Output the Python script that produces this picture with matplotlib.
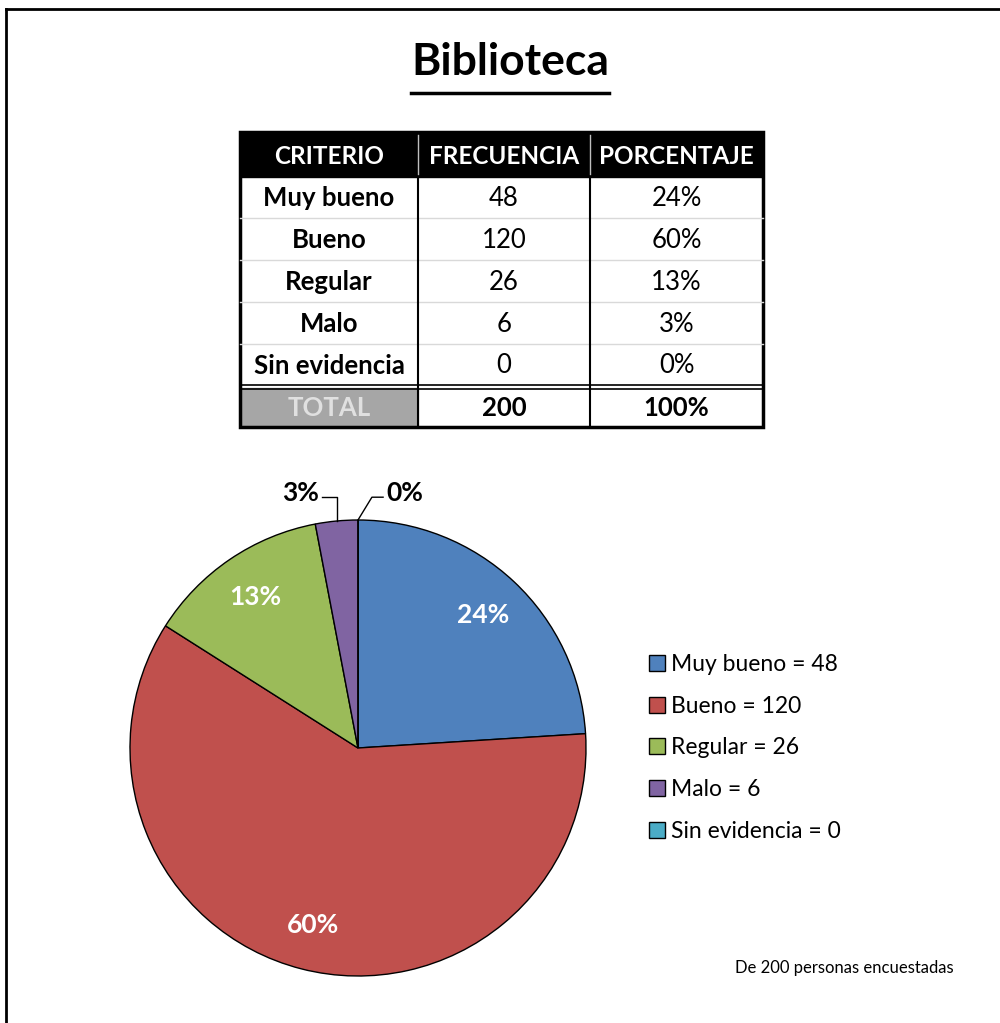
import matplotlib
matplotlib.use("Agg")
import matplotlib.pyplot as plt
from matplotlib.patches import Rectangle
import numpy as np

plt.rcParams['font.family'] = ['Lato', 'DejaVu Sans']

# data
titulo = "Biblioteca"
encabezados = ["CRITERIO", "FRECUENCIA", "PORCENTAJE"]
criterios = ["Muy bueno", "Bueno", "Regular", "Malo", "Sin evidencia"]
frecuencia = [48, 120, 26, 6, 0]
porcentaje = [24, 60, 13, 3, 0]
colores = ["#4F81BD", "#C0504D", "#9BBB59", "#8064A2", "#4BACC6"]
nota = "De 200 personas encuestadas"

W, H = 1000, 1023
fig = plt.figure(figsize=(W / 100, H / 100), dpi=100)

# background axes in pixel coordinates
ax0 = fig.add_axes([0, 0, 1, 1])
ax0.set_xlim(0, W)
ax0.set_ylim(H, 0)
ax0.axis("off")

# frame (top and left only visible)
ax0.plot([6, 1000], [9, 9], color="black", lw=2)
ax0.plot([6, 6], [9, 1023], color="black", lw=2)

# title with underline
ax0.text(510, 62, titulo, ha="center", va="center", fontsize=32, fontweight="bold")
ax0.plot([411, 609], [93, 93], color="black", lw=2.5)

# table
x0, x1, x2, x3 = 240, 418, 590, 763
y_head = (132, 177)
filas_y = [177, 218, 260, 302, 344, 385]
y_tot = (388, 427)
ax0.add_patch(Rectangle((x0, y_head[0]), x3 - x0, y_head[1] - y_head[0], color="black"))
ax0.add_patch(Rectangle((x0, y_tot[0]), x1 - x0, y_tot[1] - y_tot[0], color="#A6A6A6"))
for y in filas_y[1:-1]:
    ax0.plot([x0, x3], [y, y], color="#D9D9D9", lw=1)
for x in (x1, x2):
    ax0.plot([x, x], [y_head[0] + 3, y_head[1] - 3], color="#BFBFBF", lw=1)
    ax0.plot([x, x], [y_head[1], y_tot[1]], color="black", lw=1.5)
ax0.plot([x0, x3], [385, 385], color="black", lw=1.2)
ax0.plot([x0, x3], [388.5, 388.5], color="black", lw=1.2)
ax0.add_patch(Rectangle((x0, y_head[0]), x3 - x0, y_tot[1] - y_head[0],
                        fill=False, edgecolor="black", lw=2.5))

fs = 18.5
cx = [(x0 + x1) / 2, (x1 + x2) / 2, (x2 + x3) / 2]
for c, t in zip(cx, encabezados):
    ax0.text(c, 157, t, ha="center", va="center", color="white",
             fontsize=17.5, fontweight="bold")
for i in range(len(criterios)):
    yc = (filas_y[i] + filas_y[i + 1]) / 2 + 1
    ax0.text(cx[0], yc, criterios[i], ha="center", va="center", fontsize=fs, fontweight="bold")
    ax0.text(cx[1], yc, str(frecuencia[i]), ha="center", va="center", fontsize=fs)
    ax0.text(cx[2], yc, f"{porcentaje[i]}%", ha="center", va="center", fontsize=fs)
yc = sum(y_tot) / 2 + 1
ax0.text(cx[0], yc, "TOTAL", ha="center", va="center", fontsize=fs,
         fontweight="bold", color="#E0E0E0")
ax0.text(cx[1], yc, str(sum(frecuencia)), ha="center", va="center", fontsize=fs, fontweight="bold")
ax0.text(cx[2], yc, f"{sum(porcentaje)}%", ha="center", va="center", fontsize=fs, fontweight="bold")

# footnote
ax0.text(735, 968, nota, ha="left", va="center", fontsize=12)

# pie
pcx, pcy, r = 358, 748, 228
ax = fig.add_axes([(pcx - r) / W, 1 - (pcy + r) / H, 2 * r / W, 2 * r / H])
wedges, _ = ax.pie(frecuencia, colors=colores, startangle=90, counterclock=False,
                   wedgeprops=dict(edgecolor="black", linewidth=1))
ax.set_xlim(-1, 1)
ax.set_ylim(-1, 1)
ax.set_aspect("equal")

# inside labels for big slices, outside with leader lines for small ones
lab_fs = 19
for w, p in zip(wedges, porcentaje):
    ang = np.deg2rad((w.theta1 + w.theta2) / 2)
    if p >= 10:
        ax.text(0.8 * np.cos(ang), 0.8 * np.sin(ang), f"{p}%", ha="center", va="center",
                color="white", fontsize=lab_fs, fontweight="bold")
ang_malo = np.deg2rad((wedges[3].theta1 + wedges[3].theta2) / 2)
ax.text(-0.254, 1.118, f"{porcentaje[3]}%", ha="center", va="center", fontsize=lab_fs, fontweight="bold")
ax.plot([-0.158, np.cos(ang_malo), np.cos(ang_malo)], [1.10, 1.10, np.sin(ang_malo)],
        color="black", lw=1, clip_on=False)
ang_sin = np.deg2rad(wedges[4].theta1)
ax.text(0.206, 1.118, f"{porcentaje[4]}%", ha="center", va="center", fontsize=lab_fs, fontweight="bold")
ax.plot([0.11, 0.061, np.cos(ang_sin)], [1.10, 1.10, np.sin(ang_sin)],
        color="black", lw=1, clip_on=False)

# legend
etiquetas = [f"{c} = {f}" for c, f in zip(criterios, frecuencia)]
fig.legend(wedges, etiquetas, loc="upper left", bbox_to_anchor=(640 / W, 1 - 645 / H),
           frameon=False, fontsize=16.5, handlelength=0.7, handleheight=0.7,
           handletextpad=0.25, labelspacing=0.9, borderaxespad=0)

fig.savefig("out.png", dpi=100)
